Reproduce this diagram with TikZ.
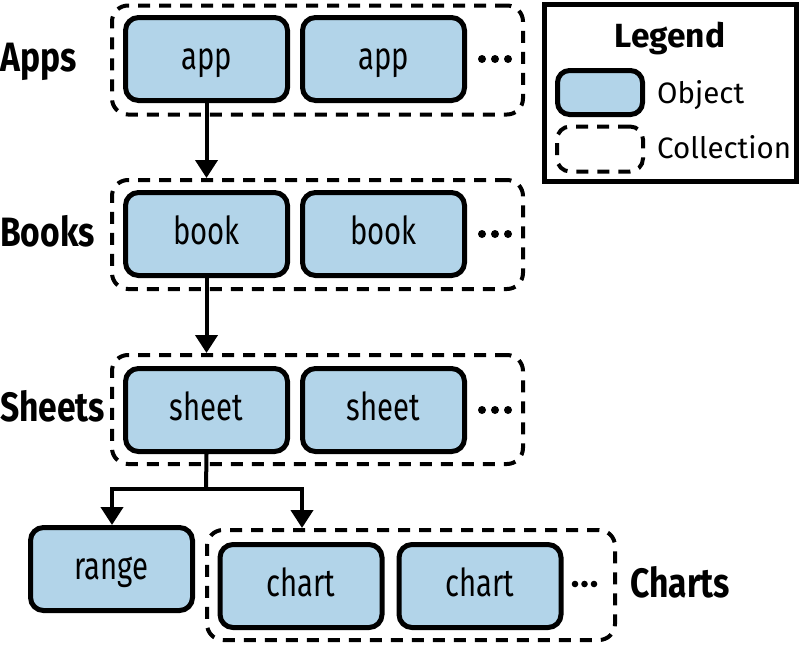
\documentclass[tikz,border=0pt]{standalone}
\usepackage{fontspec}
\setmainfont{Fira Sans}
\newfontfamily\condfont{Fira Sans}[FakeStretch=0.76]
\newfontfamily\labfont{Fira Sans}[FakeStretch=0.82]
\usetikzlibrary{arrows.meta}
\definecolor{objblue}{RGB}{178,212,233}
\tikzset{
  obj/.style={draw=black, line width=5pt, fill=objblue, rounded corners=13pt,
    minimum width=162pt, minimum height=83pt, inner sep=0pt,
    font=\condfont\fontsize{38.5}{40}\selectfont, text height=21pt, text depth=0pt},
  coll/.style={draw=black, line width=4pt, dash pattern=on 12pt off 9pt, rounded corners=16pt,
    inner sep=0pt},
  grp/.style={font=\labfont\bfseries\fontsize{41}{44}\selectfont, inner sep=0pt, anchor=base west},
  legtxt/.style={font=\fontsize{29.5}{34}\selectfont, inner sep=0pt, anchor=base west},
  arr/.style={line width=4pt, -{Triangle[width=22pt,length=18pt]}},
  conn/.style={line width=4pt},
  dot/.style={fill=black},
}
\begin{document}
\begin{tikzpicture}[x=1pt,y=-1pt]
\useasboundingbox (0,0) rectangle (802,645);
% collections
\node[coll, minimum width=411pt, minimum height=109pt] (appscol) at (317.5,60) {};
\node[coll, minimum width=411pt, minimum height=109pt] (bookscol) at (317.5,234.5) {};
\node[coll, minimum width=411pt, minimum height=109pt] (sheetscol) at (317.5,409.5) {};
\node[coll, minimum width=408pt, minimum height=110pt] (chartscol) at (411,585) {};
% objects
\node[obj] (app1) at (206.5,59) {app};
\node[obj] (app2) at (383.5,59) {app};
\node[obj] (book1) at (206.5,234) {book};
\node[obj] (book2) at (383.5,234) {book};
\node[obj] (sheet1) at (206.5,410) {sheet};
\node[obj] (sheet2) at (383.5,410) {sheet};
\node[obj] (range) at (111.5,569) {range};
\node[obj] (chart1) at (301,586) {chart};
\node[obj] (chart2) at (480,586) {chart};
% group labels
\node[grp] (lapps) at (0,71) {Apps};
\node[grp] (lbooks) at (0,246) {Books};
\node[grp] (lsheets) at (0,421) {Sheets};
\node[grp] (lcharts) at (630,597) {Charts};
% dots
\foreach \yy in {59,234,410} {
  \foreach \xx in {482,495,508} { \fill[dot] (\xx,\yy) circle (4pt); }
}
\foreach \xx in {575,584.5,594} { \fill[dot] (\xx,584) circle (3.3pt); }
% connectors
\draw[arr] (app1.south) -- (app1.south |- bookscol.north);
\draw[arr] (book1.south) -- (book1.south |- sheetscol.north);
\coordinate (split) at (206,489);
\coordinate (cleft) at (112,489);
\coordinate (cright) at (302,489);
\draw[conn] (sheet1.south) -- (split);
\draw[arr] (split) -- (cleft) -- (cleft |- range.north);
\draw[arr] (split) -- (cright) -- (cright |- chartscol.north);
% legend
\node[draw=black, line width=5pt, minimum width=252pt, minimum height=177pt, inner sep=0pt] (legend) at (670,93) {};
\node[font=\bfseries\fontsize{33.5}{36}\selectfont, inner sep=0pt, anchor=base] (ltitle) at (670,47) {Legend};
\node[obj, minimum width=85pt, minimum height=44pt, rounded corners=12pt] (lobj) at (600,92.5) {};
\node[coll, minimum width=86pt, minimum height=45pt, rounded corners=13pt] (lcoll) at (600,149) {};
\node[legtxt] (lobjt) at (657,103) {Object};
\node[legtxt] (lcollt) at (657,158) {Collection};
\end{tikzpicture}
\end{document}
